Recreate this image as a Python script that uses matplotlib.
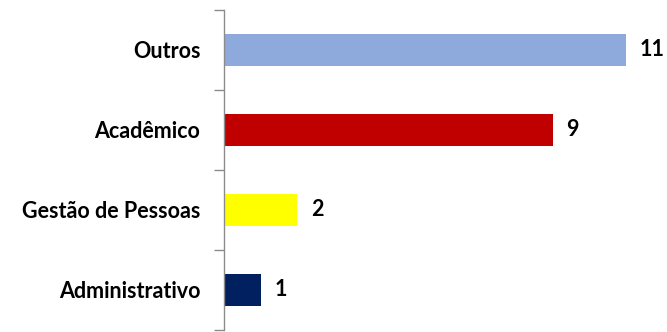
import matplotlib.pyplot as plt
import matplotlib.ticker as mticker
import numpy as np

# Ocorrências por área
categorias = ["Administrativo", "Gestão de Pessoas", "Acadêmico", "Outros"]
valores = [1, 2, 9, 11]
cores = ["#002060", "#FFFF00", "#C00000", "#8EA9DB"]

plt.rcParams["font.family"] = ["Lato", "DejaVu Sans"]

fig = plt.figure(figsize=(6.67, 3.32), dpi=100)
ax = fig.add_axes([224 / 667, 2 / 332, 443 / 667, 320 / 332])

y = np.arange(len(categorias))
bars = ax.barh(y, valores, height=0.4, color=cores)

for yi, v in zip(y, valores):
    ax.text(v + 0.38, yi, f"{v}", va="center", ha="left",
            fontsize=15.5, fontweight="bold", color="black")

ax.set_xlim(0, 443 / 36.5)
ax.set_ylim(-0.5, 3.5)

# ticks on category boundaries, labels centred between them
ax.yaxis.set_major_locator(mticker.FixedLocator(np.arange(-0.5, 4.0, 1.0)))
ax.yaxis.set_major_formatter(mticker.NullFormatter())
ax.yaxis.set_minor_locator(mticker.FixedLocator(y))
ax.yaxis.set_minor_formatter(mticker.FixedFormatter(categorias))
ax.tick_params(axis="y", which="major", length=7, width=1, color="#8c8c8c")
ax.tick_params(axis="y", which="minor", length=0, pad=17, labelsize=15.5)
for lbl in ax.get_yticklabels(minor=True):
    lbl.set_fontweight("bold")

ax.xaxis.set_visible(False)
for s in ["top", "right", "bottom"]:
    ax.spines[s].set_visible(False)
ax.spines["left"].set_color("#8c8c8c")
ax.spines["left"].set_linewidth(1)

fig.savefig("out.png", dpi=100)
